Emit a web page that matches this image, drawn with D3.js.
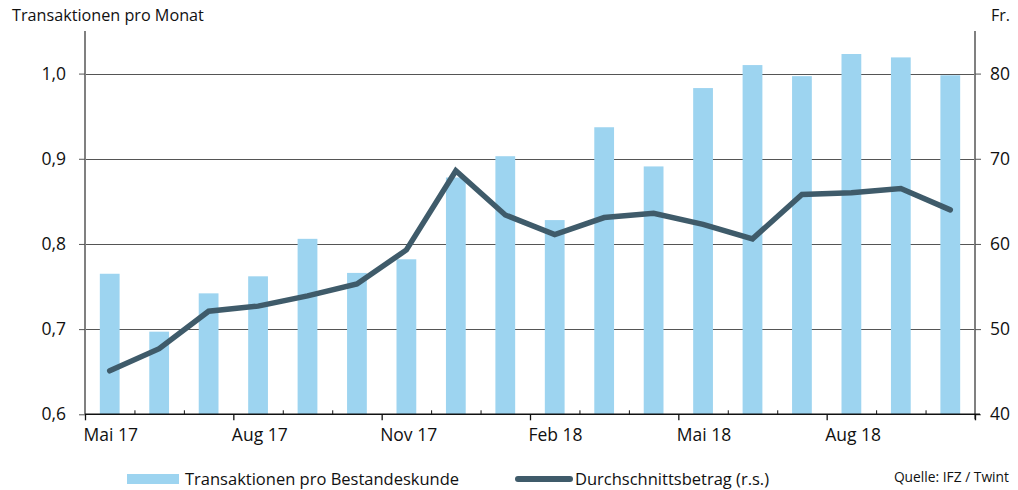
<!DOCTYPE html>
<html>
<head>
<meta charset="utf-8">
<script src="https://cdn.jsdelivr.net/npm/d3@7"></script>
<style>
  html, body { margin: 0; padding: 0; background: #fff; }
  svg { display: block; }
  text { font-family: "Open Sans", "Noto Sans", sans-serif; fill: #111; }
</style>
</head>
<body>
<svg id="chart" width="1018" height="490"></svg>
<script>
// Monthly categories, May 2017 – October 2018
const months = ["2017-05","2017-06","2017-07","2017-08","2017-09","2017-10","2017-11","2017-12",
                "2018-01","2018-02","2018-03","2018-04","2018-05","2018-06","2018-07","2018-08",
                "2018-09","2018-10"];

// Transaktionen pro Bestandeskunde (left axis)
const transactions = [0.765, 0.697, 0.742, 0.762, 0.806, 0.766, 0.782, 0.878, 0.903,
                      0.828, 0.937, 0.891, 0.983, 1.010, 0.997, 1.023, 1.019, 0.998];

// Durchschnittsbetrag in Fr. (right axis)
const avgAmount = [45.1, 47.7, 52.1, 52.7, 53.9, 55.3, 59.3, 68.6, 63.4,
                   61.1, 63.1, 63.6, 62.3, 60.6, 65.8, 66.0, 66.5, 64.0];

// Quarterly axis labels (placed at the start of May, Aug, Nov, Feb)
const quarterTicks = [0, 3, 6, 9, 12, 15, 18];
const quarterLabels = ["Mai 17", "Aug 17", "Nov 17", "Feb 18", "Mai 18", "Aug 18"];

const leftTicks = [0.6, 0.7, 0.8, 0.9, 1.0];
const rightTicks = [40, 50, 60, 70, 80];

const svg = d3.select("#chart");
const plotLeft = 85, plotRight = 975, plotTop = 31, plotBottom = 414.3;

const x = d3.scaleBand().domain(months).range([plotLeft, plotRight]).padding(0);
const xEdge = d3.scaleLinear().domain([0, months.length]).range([plotLeft, plotRight]);
const yL = d3.scaleLinear().domain([0.6, 1.05]).range([plotBottom, plotTop]);
const yR = d3.scaleLinear().domain([40, 85]).range([plotBottom, plotTop]);

const fmt = d => d3.format(".1f")(d).replace(".", ",");

// Horizontal grid lines
svg.append("g")
  .selectAll("line")
  .data(leftTicks.slice(1))
  .join("line")
  .attr("x1", plotLeft).attr("x2", plotRight)
  .attr("y1", d => Math.round(yL(d)) + 0.5).attr("y2", d => Math.round(yL(d)) + 0.5)
  .attr("stroke", "#555").attr("stroke-width", 1.2);

// Bars
const barW = x.bandwidth() * 0.4;
svg.append("g")
  .selectAll("rect")
  .data(transactions)
  .join("rect")
  .attr("x", (d, i) => x(months[i]) + x.bandwidth() / 2 - barW / 2)
  .attr("width", barW)
  .attr("y", d => yL(d))
  .attr("height", d => yL(0.6) - yL(d))
  .attr("fill", "#9dd4f0");

// Left axis
const gL = svg.append("g").attr("transform", `translate(${plotLeft},0)`)
  .call(d3.axisLeft(yL).tickValues(leftTicks).tickSize(6).tickSizeOuter(0).tickFormat(fmt));
gL.select(".domain").attr("stroke", "#808080").attr("stroke-width", 2)
  .attr("d", `M0,${plotTop}V${plotBottom}`);
gL.selectAll(".tick line").attr("stroke", "#555");
gL.selectAll(".tick text").attr("x", -19).attr("font-size", 17.5).attr("fill", "#111")
  .attr("font-family", "'Open Sans', sans-serif");

// Right axis
const gR = svg.append("g").attr("transform", `translate(${plotRight},0)`)
  .call(d3.axisRight(yR).tickValues(rightTicks).tickSize(6).tickSizeOuter(0));
gR.select(".domain").attr("stroke", "#808080").attr("stroke-width", 2)
  .attr("d", `M0,${plotTop}V${plotBottom + 5}`);
gR.selectAll(".tick line").attr("stroke", "#555");
gR.selectAll(".tick text").attr("x", 15).attr("font-size", 17.5).attr("fill", "#111")
  .attr("font-family", "'Open Sans', sans-serif");

// Bottom axis: baseline, monthly minor ticks (up), quarterly ticks (down)
const gB = svg.append("g").attr("transform", `translate(0,${plotBottom})`);
gB.append("line").attr("x1", plotLeft).attr("x2", plotRight + 5).attr("y1", 0).attr("y2", 0)
  .attr("stroke", "#111").attr("stroke-width", 1.5);
const minor = d3.range(1, months.length).filter(i => !quarterTicks.includes(i));
gB.append("g").call(d3.axisBottom(xEdge).tickValues(minor).tickSize(-4).tickFormat(""))
  .call(g => g.select(".domain").remove())
  .call(g => g.selectAll(".tick line").attr("stroke", "#111"));
const gQ = gB.append("g")
  .call(d3.axisBottom(xEdge).tickValues(quarterTicks).tickSize(6)
    .tickFormat((d, i) => quarterLabels[i] || ""));
gQ.select(".domain").remove();
gQ.selectAll(".tick line").attr("stroke", "#111").attr("stroke-width", 1.3);
gQ.selectAll(".tick text").attr("text-anchor", "start").attr("x", -2).attr("y", 14)
  .attr("font-size", 17.5).attr("fill", "#111").attr("font-family", "'Open Sans', sans-serif");

// Line series
const line = d3.line()
  .x((d, i) => x(months[i]) + x.bandwidth() / 2)
  .y(d => yR(d));
svg.append("path")
  .datum(avgAmount)
  .attr("d", line)
  .attr("fill", "none")
  .attr("stroke", "#3f5b6a")
  .attr("stroke-width", 5.5)
  .attr("stroke-linejoin", "miter")
  .attr("stroke-linecap", "round");

// Axis titles
svg.append("text").attr("x", 12).attr("y", 21).attr("font-size", 16.2).text("Transaktionen pro Monat");
svg.append("text").attr("x", 991).attr("y", 21).attr("font-size", 16).text("Fr.");

// Legend
const legY = 479;
svg.append("rect").attr("x", 127).attr("y", legY - 5).attr("width", 52).attr("height", 10).attr("fill", "#9dd4f0");
svg.append("text").attr("x", 185).attr("y", legY + 6).attr("font-size", 16.5).text("Transaktionen pro Bestandeskunde");
svg.append("line").attr("x1", 518).attr("x2", 570).attr("y1", legY).attr("y2", legY)
  .attr("stroke", "#3f5b6a").attr("stroke-width", 6).attr("stroke-linecap", "round");
svg.append("text").attr("x", 575).attr("y", legY + 6).attr("font-size", 16.5).text("Durchschnittsbetrag (r.s.)");

// Source note
svg.append("text").attr("x", 1009).attr("y", 482).attr("font-size", 13.8)
  .attr("text-anchor", "end").text("Quelle: IFZ / Twint");
</script>
</body>
</html>
